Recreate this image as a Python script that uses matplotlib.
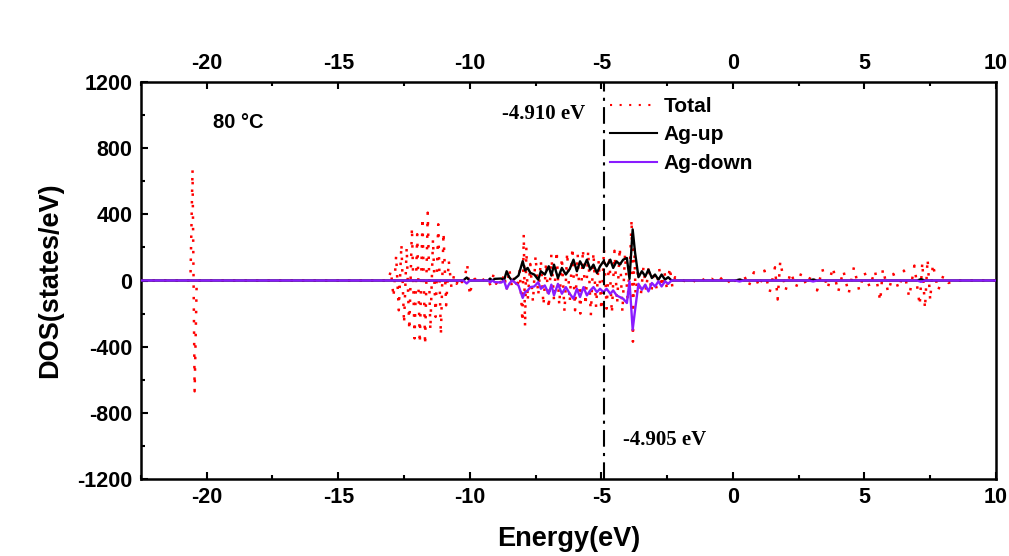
import matplotlib
matplotlib.use("Agg")
import matplotlib.pyplot as plt
from matplotlib.ticker import MultipleLocator

# ---------------- data ----------------
total_energy = [
    -22.5, -20.62, -20.54, -20.46, -20.38, -13.1,
    -13.0, -12.9, -12.8, -12.7, -12.6, -12.5, -12.4, -12.3, -12.2, -12.1,
    -12.0, -11.9, -11.8, -11.7, -11.6, -11.5, -11.4, -11.3, -11.2, -11.1,
    -11.0, -10.9, -10.8, -10.7, -10.6, -10.5, -10.4, -10.3, -10.2, -10.1,
    -10.0, -9.9,
    -9.8, -9.6, -9.4, -9.2, -9.1, -9.0, -8.9, -8.8, -8.7, -8.6, -8.5, -8.4,
    -8.3, -8.2, -8.1, -8.0, -7.95, -7.9, -7.85, -7.8,
    -7.7, -7.6, -7.5, -7.4, -7.3, -7.2, -7.1, -7.0, -6.9, -6.8, -6.7, -6.6,
    -6.5, -6.4, -6.3, -6.2, -6.1, -6.0, -5.9, -5.8, -5.7, -5.6, -5.5, -5.4,
    -5.3, -5.2, -5.1, -5.0, -4.9, -4.8, -4.7, -4.6, -4.5, -4.4, -4.3, -4.2,
    -4.1, -4.0, -3.9, -3.85, -3.8, -3.75, -3.7, -3.6, -3.5, -3.4, -3.3, -3.2,
    -3.1, -3.0, -2.9, -2.8, -2.7, -2.6, -2.5, -2.4, -2.3, -2.2, -2.1,
    -2.0, -1.8, -1.6, -1.4, -1.2, -1.0, -0.8, -0.6, -0.4, -0.2, 0.0, 0.2,
    0.4, 0.6, 0.8, 1.0, 1.2, 1.4, 1.6, 1.7, 1.8, 2.0, 2.2, 2.4, 2.6, 2.8,
    3.0, 3.2, 3.4, 3.6, 3.8, 4.0, 4.2, 4.4, 4.6, 4.8, 5.0, 5.2, 5.4, 5.6,
    5.7, 5.9, 6.1, 6.3, 6.5, 6.7, 6.9, 7.1, 7.2, 7.3, 7.4, 7.5, 7.6, 7.8,
    8.0, 8.2, 8.4, 10.0,
]
total_dos = [
    0, 0, 670, -670, 0, 0,
    60, -100, 150, -180, 220, -260, 200, -300, 320, -350,
    280, -380, 380, -390, 410, -300, 250, -220, 340, -330,
    290, -150, 120, -40, 30, -20, 20, -10, 10, 100,
    -90, 0,
    10, -15, 20, -30, 35, -20, 20, -30, 40, -60, 70, -40,
    30, -50, 60, -250, 280, -280, 200, -120,
    100, -130, 150, -90, 120, -150, 110, -170, 160, -120, 180, -150,
    140, -190, 170, -130, 200, -180, 160, -200, 190, -150, 180, -210,
    170, -160, 120, -180, 190, -170, 150, -200, 180, -140, 200, -190,
    160, -120, 150, 370, -370, 200, -80, 70, -90, 80, -60, 90,
    -70, 60, -50, 70, -40, 50, -60, 80, -40, 20, 0,
    5, -5, 10, -10, 15, -10, 10, -15, 20, -15, 25, -30,
    40, -35, 50, -40, 60, -70, 80, -115, 117, -60, 50, -40, 45, -30,
    40, -60, 70, -50, 80, -70, 60, -80, 80, -60, 50, -40, 60, -125,
    70, -70, 40, -50, 60, -100, 90, -150, 110, -170, 130, -120, 100, -60,
    30, -15, 0, 0,
]

ag_energy = [
    -22.5, -10.25, -10.12, -10.0, -9.3, -9.23, -9.15, -9.05, -8.8, -8.7,
    -8.6, -8.5, -8.4, -8.3, -8.15, -7.99, -7.9, -7.8, -7.7, -7.55,
    -7.4, -7.3, -7.15, -7.0, -6.9, -6.8, -6.65, -6.5, -6.35, -6.2,
    -6.06, -5.93, -5.81, -5.68, -5.55, -5.42, -5.3, -5.17, -5.05, -4.92,
    -4.8, -4.66, -4.55, -4.42, -4.3, -4.17, -4.03, -3.93, -3.81, -3.72,
    -3.59, -3.46, -3.33, -3.21, -3.08, -2.96, -2.83, -2.71, -2.58, -2.46,
    -2.33, 0.1, 0.25, 0.4, 2.9, 3.05, 3.2, 7.0, 7.15, 7.3, 10.0,
]
ag_up = [
    0, 0, 18, 0, 0, 12, 0, 10, 12, 0,
    56, 20, 0, 10, 30, 117, 60, 76, 46, 36,
    5, 56, 36, 86, 30, 96, 15, 76, 36, 70,
    126, 56, 116, 76, 126, 66, 96, 46, 86, 116,
    86, 126, 76, 116, 96, 126, 136, 10, 309, 170,
    20, 56, 25, 66, 15, 36, 5, 36, 5, 20,
    0, 0, 6, 0, 0, 6, 0, 0, 8, 0, 0,
]
ag_down = [
    0, 0, -18, 0, 0, -12, 0, -10, -12, 0,
    -50, -20, 0, -10, -30, -105, -70, -60, -40, -36,
    -10, -50, -30, -80, -25, -90, -20, -80, -40, -80,
    -110, -50, -100, -40, -90, -60, -40, -70, -50, -70,
    -50, -80, -60, -90, -100, -110, -136, -5, -297, -180,
    -20, -56, -25, -66, -15, -36, -5, -36, -5, -20,
    0, 0, -6, 0, 0, -6, 0, 0, -8, 0, 0,
]

fermi_line = -4.91
x_ticks = [-20, -15, -10, -5, 0, 5, 10]
y_ticks = [-1200, -800, -400, 0, 400, 800, 1200]

# ---------------- figure ----------------
fig = plt.figure(figsize=(10.09, 5.56), dpi=100)
ax = fig.add_axes([0.1397, 0.1385, 0.8474, 0.714])

ax.plot(total_energy, total_dos, color="red", lw=1.8,
        linestyle=(0, (1, 3.6)), label="Total", zorder=2)
ax.plot(ag_energy, ag_up, color="black", lw=1.7, label="Ag-up", zorder=3)
ax.plot(ag_energy, ag_down, color="#8a1cff", lw=1.7, label="Ag-down", zorder=4)

ax.axvline(fermi_line, color="black", lw=1.5, linestyle=(0, (8, 3, 1.5, 3)), zorder=5)

ax.set_xlim(-22.5, 10)
ax.set_ylim(-1200, 1200)
ax.set_xticks(x_ticks)
ax.set_yticks(y_ticks)
ax.xaxis.set_minor_locator(MultipleLocator(2.5))
ax.yaxis.set_minor_locator(MultipleLocator(200))

lab_font = dict(family="Liberation Sans", weight="bold", size=15.5)
ax.set_xticklabels([str(t) for t in x_ticks], **lab_font)
ax.set_yticklabels([str(t) for t in y_ticks], **lab_font)
ax.tick_params(axis="both", which="both", direction="in", top=True,
               labeltop=True, width=1.5)
ax.tick_params(which="major", length=5, pad=6)
ax.tick_params(which="minor", length=3)
for sp in ax.spines.values():
    sp.set_linewidth(1.8)

ax.set_xlabel("Energy(eV)", fontfamily="Liberation Sans", fontweight="bold",
              fontsize=19.5, labelpad=13)
ax.set_ylabel("DOS(states/eV)", fontfamily="Liberation Sans", fontweight="bold",
              fontsize=19.5, labelpad=10)

ax.text(-18.8, 955, "80 °C", fontfamily="Liberation Sans", fontweight="bold",
        fontsize=14.5, ha="center", va="center")
ax.text(-7.18, 1006, "-4.910 eV", fontfamily="Liberation Serif", fontweight="bold",
        fontsize=15, ha="center", va="center")
ax.text(-2.58, -964, "-4.905 eV", fontfamily="Liberation Serif", fontweight="bold",
        fontsize=15, ha="center", va="center")

leg = ax.legend(loc="upper left", bbox_to_anchor=(0.548, 0.962), frameon=False,
                prop=dict(family="Liberation Sans", weight="bold", size=15),
                handlelength=2.3, handletextpad=0.3, labelspacing=0.45,
                borderpad=0, borderaxespad=0)
for line in leg.get_lines():
    line.set_linewidth(1.5)

fig.savefig("out.png", dpi=100, facecolor="white")
